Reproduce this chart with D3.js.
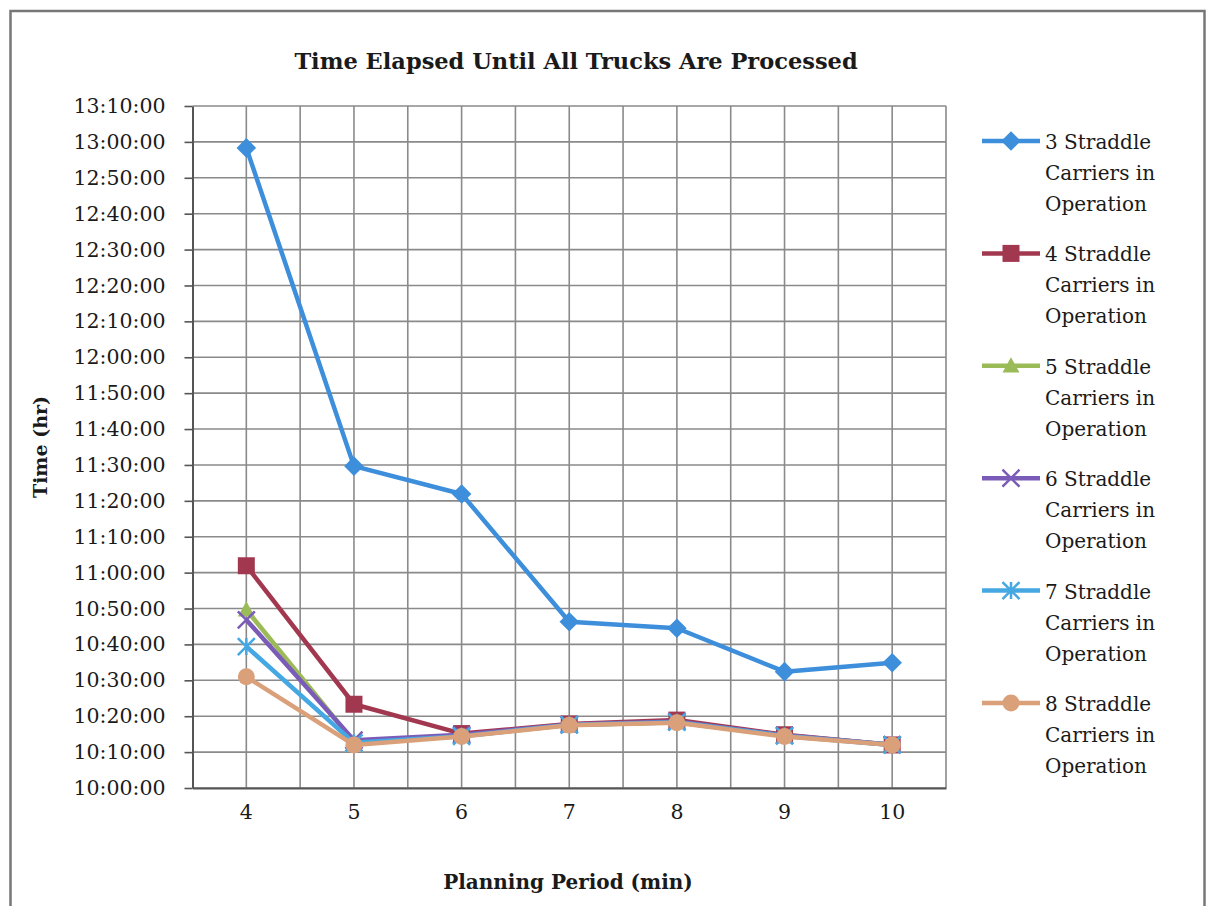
<!DOCTYPE html>
<html>
<head>
<meta charset="utf-8">
<script src="https://cdn.jsdelivr.net/npm/d3@7/dist/d3.min.js"></script>
<style>
  html, body { margin: 0; padding: 0; background: #fff; }
</style>
</head>
<body>
<svg id="chart" width="1208" height="906"></svg>
<script>
// Planning period (min) on the x axis
const periods = [4, 5, 6, 7, 8, 9, 10];

// Clock time when the last truck is processed, per fleet size
const series3 = ["12:58:20", "11:29:40", "11:21:55", "10:46:20", "10:44:30", "10:32:25", "10:34:55"];
const series4 = ["11:01:55", "10:23:20", "10:15:10", "10:17:50", "10:18:55", "10:14:50", "10:12:00"];
const series5 = ["10:49:40", "10:12:50", "10:14:30", "10:17:35", "10:18:20", "10:14:35", "10:12:05"];
const series6 = ["10:46:50", "10:13:20", "10:14:50", "10:17:40", "10:18:30", "10:14:40", "10:12:05"];
const series7 = ["10:39:25", "10:12:35", "10:14:25", "10:17:35", "10:18:20", "10:14:30", "10:12:00"];
const series8 = ["10:31:00", "10:12:00", "10:14:20", "10:17:30", "10:18:10", "10:14:20", "10:12:00"];

const seriesNames = [
  "3 Straddle Carriers in Operation",
  "4 Straddle Carriers in Operation",
  "5 Straddle Carriers in Operation",
  "6 Straddle Carriers in Operation",
  "7 Straddle Carriers in Operation",
  "8 Straddle Carriers in Operation"
];

// y axis tick labels, 10:00:00 to 13:10:00 every ten minutes
const yTickLabels = [
  "10:00:00", "10:10:00", "10:20:00", "10:30:00", "10:40:00", "10:50:00",
  "11:00:00", "11:10:00", "11:20:00", "11:30:00", "11:40:00", "11:50:00",
  "12:00:00", "12:10:00", "12:20:00", "12:30:00", "12:40:00", "12:50:00",
  "13:00:00", "13:10:00"
];

const colors = ["#3d8edb", "#a2384f", "#9bbb59", "#7a5cb8", "#45a8e2", "#d9a07a"];
const markers = ["diamond", "square", "triangle", "x", "star", "circle"];
const FONT = "'DejaVu Serif', serif";

const toSec = s => { const [h, m, sec] = s.split(":").map(Number); return h * 3600 + m * 60 + sec; };
const allSeries = [series3, series4, series5, series6, series7, series8].map(a => a.map(toSec));

const svg = d3.select("#chart");
const margin = { left: 192.5, right: 946, top: 106, bottom: 788 };

// outer frame
svg.append("rect")
  .attr("x", 10.5).attr("y", 11).attr("width", 1194).attr("height", 920)
  .attr("fill", "#fff").attr("stroke", "#777").attr("stroke-width", 2.5);

const yTicks = yTickLabels.map(toSec);
const y = d3.scaleLinear()
  .domain([d3.min(yTicks), d3.max(yTicks)])
  .range([margin.bottom, margin.top]);

const x = d3.scaleBand().domain(periods).range([margin.left, margin.right]).padding(0);
const cx = d => x(d) + x.bandwidth() / 2;

// grid: horizontal
svg.append("g").selectAll("line").data(yTicks).join("line")
  .attr("x1", margin.left).attr("x2", margin.right)
  .attr("y1", d => y(d)).attr("y2", d => y(d))
  .attr("stroke", "#8a8a8a").attr("stroke-width", 1.6);

// grid: vertical, at category centers and boundaries
const vLines = [];
periods.forEach(p => { vLines.push(x(p)); vLines.push(cx(p)); });
vLines.push(margin.right);
svg.append("g").selectAll("line").data(vLines.slice(1)).join("line")
  .attr("x1", d => d).attr("x2", d => d)
  .attr("y1", margin.top).attr("y2", margin.bottom)
  .attr("stroke", "#8a8a8a").attr("stroke-width", 1.6);

// y axis
const yAxis = svg.append("g")
  .attr("transform", `translate(${margin.left},0)`)
  .call(d3.axisLeft(y).tickValues(yTicks)
    .tickFormat((d, i) => yTickLabels[i]).tickSize(8).tickSizeOuter(0));
yAxis.attr("font-family", FONT);
yAxis.select(".domain").attr("stroke", "#555").attr("stroke-width", 2);
yAxis.selectAll(".tick line").attr("stroke", "#555").attr("stroke-width", 1.6);
yAxis.selectAll(".tick text")
  .attr("x", -27).attr("font-size", 20.5).attr("fill", "#1a1a1a");

// x axis
const xAxis = svg.append("g")
  .attr("transform", `translate(0,${margin.bottom})`)
  .call(d3.axisBottom(x).tickSize(0).tickSizeOuter(0));
xAxis.attr("font-family", FONT);
xAxis.select(".domain").attr("stroke", "#555").attr("stroke-width", 2);
xAxis.selectAll(".tick text")
  .attr("y", 16).attr("font-size", 20.5).attr("fill", "#1a1a1a");

// title and axis titles
svg.append("text").attr("x", 576).attr("y", 69).attr("text-anchor", "middle")
  .attr("font-family", FONT).attr("fill", "#1a1a1a")
  .attr("font-size", 22.5).attr("font-weight", "bold").text("Time Elapsed Until All Trucks Are Processed");
svg.append("text").attr("x", 568).attr("y", 889).attr("text-anchor", "middle")
  .attr("font-family", FONT).attr("fill", "#1a1a1a")
  .attr("font-size", 20).attr("font-weight", "bold").text("Planning Period (min)");
svg.append("text").attr("transform", "translate(47,447) rotate(-90)").attr("text-anchor", "middle")
  .attr("font-family", FONT).attr("fill", "#1a1a1a")
  .attr("font-size", 19).attr("font-weight", "bold").text("Time (hr)");

function drawMarker(g, type, color, size) {
  const h = size / 2;
  if (type === "diamond") {
    const d = h * 1.15;
    g.append("path").attr("d", `M0,${-d}L${d},0L0,${d}L${-d},0Z`).attr("fill", color);
  } else if (type === "square") {
    g.append("rect").attr("x", -h).attr("y", -h).attr("width", size).attr("height", size).attr("fill", color);
  } else if (type === "triangle") {
    g.append("path").attr("d", `M0,${-h}L${h},${h * 0.8}L${-h},${h * 0.8}Z`).attr("fill", color);
  } else if (type === "circle") {
    g.append("circle").attr("r", h).attr("fill", color);
  } else if (type === "x") {
    g.append("path").attr("d", `M${-h},${-h}L${h},${h}M${-h},${h}L${h},${-h}`)
      .attr("stroke", color).attr("stroke-width", 2.5);
  } else if (type === "star") {
    g.append("path").attr("d", `M${-h},${-h}L${h},${h}M${-h},${h}L${h},${-h}M0,${-h}L0,${h}`)
      .attr("stroke", color).attr("stroke-width", 2.5);
  }
}

const line = d3.line().x((d, i) => cx(periods[i])).y(d => y(d));

allSeries.forEach((vals, k) => {
  const g = svg.append("g");
  g.append("path").datum(vals).attr("d", line)
    .attr("fill", "none").attr("stroke", colors[k]).attr("stroke-width", 4.5)
    .attr("stroke-linejoin", "round");
  vals.forEach((v, i) => {
    const mg = g.append("g").attr("transform", `translate(${cx(periods[i])},${y(v)})`);
    drawMarker(mg, markers[k], colors[k], 17);
  });
});

// legend
const legend = svg.append("g").attr("font-family", FONT).attr("fill", "#1a1a1a");
seriesNames.forEach((name, k) => {
  const top = 141 + k * 112.4;
  const g = legend.append("g").attr("transform", `translate(0,${top})`);
  g.append("line").attr("x1", 982).attr("x2", 1040).attr("y1", 0).attr("y2", 0)
    .attr("stroke", colors[k]).attr("stroke-width", 4.5);
  const mg = g.append("g").attr("transform", "translate(1011,0)");
  drawMarker(mg, markers[k], colors[k], 17);
  const words = name.split(" ");
  const lines = [words.slice(0, 2).join(" "), words.slice(2, 4).join(" "), words.slice(4).join(" ")];
  lines.forEach((t, j) => {
    g.append("text").attr("x", 1045).attr("y", j * 31 + 8).attr("font-size", 20).text(t);
  });
});
</script>
</body>
</html>
